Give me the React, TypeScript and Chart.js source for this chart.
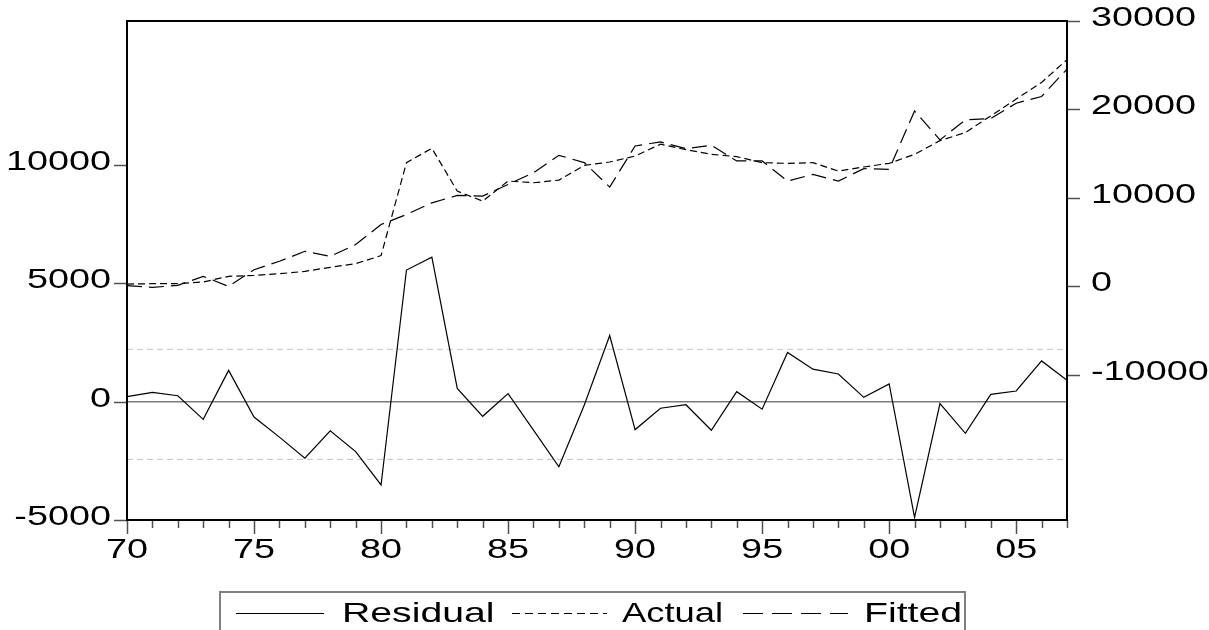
import React, { useEffect, useRef } from 'react';
import { Chart, registerables } from 'chart.js';

Chart.register(...registerables);

// ---------- data ----------
const years = [
  1970, 1971, 1972, 1973, 1974, 1975, 1976, 1977, 1978, 1979,
  1980, 1981, 1982, 1983, 1984, 1985, 1986, 1987, 1988, 1989,
  1990, 1991, 1992, 1993, 1994, 1995, 1996, 1997, 1998, 1999,
  2000, 2001, 2002, 2003, 2004, 2005, 2006, 2007,
];

const residual = [
  210, 390, 250, -750, 1320, -650, -1500, -2390, -1230, -2110,
  -3520, 5560, 6100, 560, -620, 340, -1200, -2750, -140, 2790,
  -1180, -280, -130, -1210, 420, -320, 2080, 1370, 1170, 180,
  750, -4890, -80, -1340, 310, 450, 1720, 900,
];

const actual = [
  270, 310, 310, 500, 1140, 1250, 1440, 1700, 2160, 2570,
  3480, 13990, 15610, 10770, 9640, 11910, 11720, 12020, 13680, 14060,
  14740, 16070, 15460, 14930, 14670, 13990, 13910, 13990, 13040, 13500,
  13910, 14930, 16480, 17390, 19280, 21170, 23060, 25630,
];

const fitted = [
  80, -110, 120, 1140, 0, 1890, 2840, 3970, 3400, 4730,
  7000, 8130, 9450, 10280, 10210, 11530, 12850, 14820, 13990, 11230,
  15880, 16330, 15570, 15950, 14180, 14180, 11910, 12660, 11910, 13310,
  13230, 19840, 16560, 18820, 18980, 20710, 21470, 24570,
];

const residualTicks = [-5000, 0, 5000, 10000];
const actualTicks = [-10000, 0, 10000, 20000, 30000];
const labelYears = [1970, 1975, 1980, 1985, 1990, 1995, 2000, 2005];
const yearLabels = ['70', '75', '80', '85', '90', '95', '00', '05'];
const seBand = [2210, -2440];
const legendLabels = ['Residual', 'Actual', 'Fitted'];

// ---------- text helpers ----------
const FONT = '28px "Liberation Sans", Arial, sans-serif';
const SX = 1.35;

function drawText(ctx: CanvasRenderingContext2D, text: string, x: number, y: number, align: string, sx = SX) {
  ctx.save();
  ctx.font = FONT;
  const w = ctx.measureText(text).width * sx;
  const left = align === 'right' ? x - w : align === 'center' ? x - w / 2 : x;
  ctx.translate(left, y);
  ctx.scale(sx, 1);
  ctx.textAlign = 'left';
  ctx.textBaseline = 'alphabetic';
  ctx.fillStyle = '#000';
  ctx.fillText(text, 0, 0);
  ctx.restore();
}

function line(ctx: CanvasRenderingContext2D, x1: number, y1: number, x2: number, y2: number) {
  ctx.beginPath();
  ctx.moveTo(x1, y1);
  ctx.lineTo(x2, y2);
  ctx.stroke();
}

const decor = {
  id: 'decor',
  afterDraw(chart: any) {
    const ctx: CanvasRenderingContext2D = chart.ctx;
    const { left, right, top, bottom } = chart.chartArea;
    const xs = chart.scales.x;
    const yl = chart.scales.y;
    const yr = chart.scales.y1;
    ctx.save();
    ctx.setLineDash([]);

    // ticks
    ctx.strokeStyle = '#505050';
    ctx.lineWidth = 1.5;
    years.forEach((yr0) => {
      const px = Math.round(xs.getPixelForValue(yr0)) + 0.5;
      const major = labelYears.includes(yr0);
      line(ctx, px, bottom, px, bottom + (major ? 14 : 8));
    });
    residualTicks.forEach((v) => {
      const py = Math.round(yl.getPixelForValue(v)) + 0.5;
      line(ctx, left - 13, py, left, py);
    });
    actualTicks.forEach((v) => {
      const py = Math.round(yr.getPixelForValue(v)) + 0.5;
      line(ctx, right, py, right + 13, py);
    });

    // plot border
    ctx.strokeStyle = '#000';
    ctx.lineWidth = 2;
    ctx.strokeRect(left, top, right - left, bottom - top);

    // labels
    labelYears.forEach((yv, i) => {
      drawText(ctx, yearLabels[i], xs.getPixelForValue(yv), bottom + 38, 'center');
    });
    residualTicks.forEach((v) => {
      drawText(ctx, String(v), left - 16, yl.getPixelForValue(v) + 5, 'right');
    });
    actualTicks.forEach((v) => {
      drawText(ctx, String(v), right + 24, yr.getPixelForValue(v) + 5, 'left');
    });

    // legend
    const ly = 592;
    ctx.strokeStyle = '#808080';
    ctx.lineWidth = 2;
    ctx.strokeRect(220, ly, 745, 60);
    const sy = 613.5;
    ctx.strokeStyle = '#000';
    ctx.lineWidth = 1.2;
    ctx.setLineDash([]);
    line(ctx, 236, sy, 324, sy);
    drawText(ctx, legendLabels[0], 342, 621.5, 'left', 1.4);
    ctx.setLineDash([8, 5]);
    line(ctx, 512, sy, 607, sy);
    drawText(ctx, legendLabels[1], 622, 621.5, 'left', 1.3);
    ctx.setLineDash([20, 9]);
    line(ctx, 743, sy, 848, sy);
    drawText(ctx, legendLabels[2], 864, 621.5, 'left', 1.4);
    ctx.restore();
  },
};

const pts = (vals: number[]) => years.map((y, i) => ({ x: y, y: vals[i] }));
const flat = (v: number) => [
  { x: years[0], y: v },
  { x: years[years.length - 1], y: v },
];

export default function App() {
  const ref = useRef<HTMLCanvasElement>(null);

  useEffect(() => {
    if (!ref.current) return;
    const hiddenAxis = {
      display: true,
      grid: { display: false, drawTicks: false },
      border: { display: false },
      ticks: { display: false },
    };
    const chart = new Chart(ref.current, {
      type: 'line',
      data: {
        datasets: [
          {
            label: legendLabels[0],
            data: pts(residual),
            yAxisID: 'y',
            borderColor: '#000',
            borderWidth: 1.2,
            pointRadius: 0,
            tension: 0,
          },
          {
            label: legendLabels[1],
            data: pts(actual),
            yAxisID: 'y1',
            borderColor: '#000',
            borderWidth: 1.2,
            borderDash: [7, 4],
            pointRadius: 0,
            tension: 0,
          },
          {
            label: legendLabels[2],
            data: pts(fitted),
            yAxisID: 'y1',
            borderColor: '#000',
            borderWidth: 1.2,
            borderDash: [15, 7],
            pointRadius: 0,
            tension: 0,
          },
          {
            label: 'zero',
            data: flat(0),
            yAxisID: 'y',
            borderColor: '#7a7a7a',
            borderWidth: 1.5,
            pointRadius: 0,
          },
          {
            label: 'se+',
            data: flat(seBand[0]),
            yAxisID: 'y',
            borderColor: '#c4c4c4',
            borderWidth: 1,
            borderDash: [6, 4],
            pointRadius: 0,
          },
          {
            label: 'se-',
            data: flat(seBand[1]),
            yAxisID: 'y',
            borderColor: '#c4c4c4',
            borderWidth: 1,
            borderDash: [6, 4],
            pointRadius: 0,
          },
        ],
      },
      options: {
        animation: false,
        responsive: false,
        devicePixelRatio: 1,
        layout: { padding: { top: 21, left: 0, right: 0, bottom: 0 } },
        plugins: { legend: { display: false }, title: { display: false }, tooltip: { enabled: false } },
        scales: {
          x: {
            ...hiddenAxis,
            type: 'linear',
            position: 'bottom',
            min: 1970,
            max: 2007,
            afterBuildTicks: (s: any) => {
              s.ticks = years.map((v) => ({ value: v }));
            },
            afterFit: (s: any) => {
              s.height = 110;
            },
          },
          y: {
            ...hiddenAxis,
            type: 'linear',
            position: 'left',
            min: -5000,
            max: 16080,
            afterBuildTicks: (s: any) => {
              s.ticks = residualTicks.map((v) => ({ value: v }));
            },
            afterFit: (s: any) => {
              s.width = 127;
            },
          },
          y1: {
            ...hiddenAxis,
            type: 'linear',
            position: 'right',
            min: -26400,
            max: 30000,
            afterBuildTicks: (s: any) => {
              s.ticks = actualTicks.map((v) => ({ value: v }));
            },
            afterFit: (s: any) => {
              s.width = 142;
            },
          },
        },
      } as any,
      plugins: [decor],
    });
    return () => chart.destroy();
  }, []);

  return (
    <div style={{ position: 'fixed', left: 0, top: 0, width: 1209, height: 630, background: '#fff', overflow: 'hidden' }}>
      <canvas ref={ref} width={1209} height={630} style={{ display: 'block' }} />
    </div>
  );
}
